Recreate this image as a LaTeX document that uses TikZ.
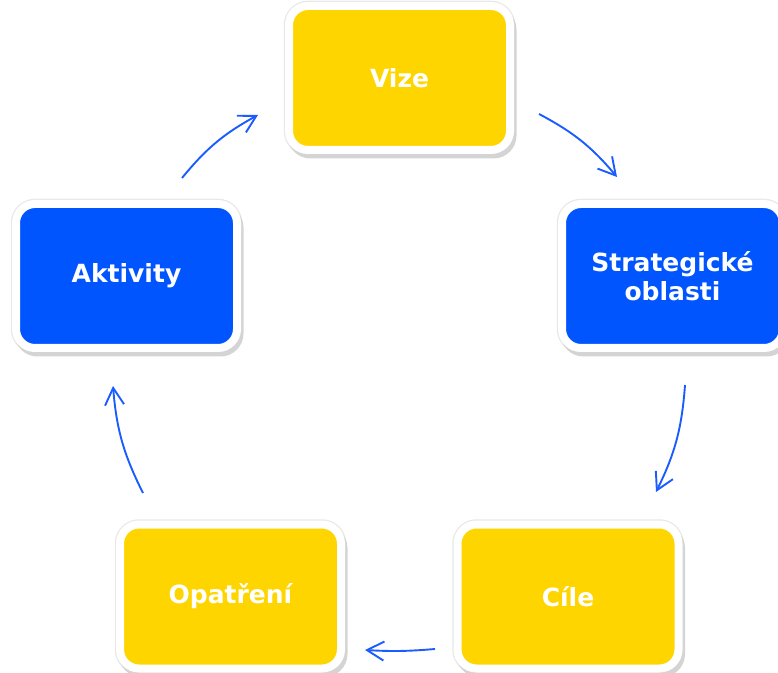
\documentclass[tikz,border=0pt]{standalone}
\usepackage{fontspec}
\setmainfont{DejaVu Sans}
\usetikzlibrary{arrows.meta,shadows}
\definecolor{gelb}{HTML}{FFD500}
\definecolor{modr}{HTML}{0055FF}
\definecolor{sipka}{HTML}{1A5CFF}
\tikzset{
  box/.style={draw=white, line width=8pt, rounded corners=19pt,
    minimum width=221pt, minimum height=144pt, inner sep=0pt,
    text=white, align=center,
    font=\fontsize{25}{29}\selectfont\bfseries,
    general shadow={shadow xshift=0pt, shadow yshift=0pt,
      fill=black!9, draw=black!9, line width=10.5pt, opacity=1},
    general shadow={shadow xshift=2.5pt, shadow yshift=-4.5pt,
      fill=black!17, draw=black!17, line width=8pt, opacity=1}},
  ybox/.style={box, fill=gelb},
  bbox/.style={box, fill=modr},
  conn/.style={draw=sipka, line width=1.9pt,
    -{Straight Barb[length=17pt, width=19pt, line width=1.9pt]}}
}
\begin{document}
\begin{tikzpicture}[x=1pt, y=1pt]
\useasboundingbox (0,0) rectangle (778,672);
\node[ybox] (vize)  at (399.5,594) {Vize};
\node[bbox] (strat) at (672.5,396) {Strategické\\oblasti};
\node[ybox] (cile)  at (568,75.5) {Cíle};
\node[ybox] (opat)  at (230.5,75.5) {Opatření};
\node[bbox] (akt)   at (126.5,396) {Aktivity};
\coordinate (a1s) at (539,558); \coordinate (a1e) at (617,495);
\coordinate (a2s) at (685,287); \coordinate (a2e) at (656,180);
\coordinate (a3s) at (435,23);  \coordinate (a3e) at (365,22);
\coordinate (a4s) at (143,179); \coordinate (a4e) at (113,286);
\coordinate (a5s) at (182,494); \coordinate (a5e) at (258,557);
\draw[conn] (a1s) to[bend left=11] (a1e);
\draw[conn] (a2s) to[bend left=11] (a2e);
\draw[conn] (a3s) to[bend left=4] (a3e);
\draw[conn] (a4s) to[bend left=11] (a4e);
\draw[conn] (a5s) to[bend left=11] (a5e);
\end{tikzpicture}
\end{document}
